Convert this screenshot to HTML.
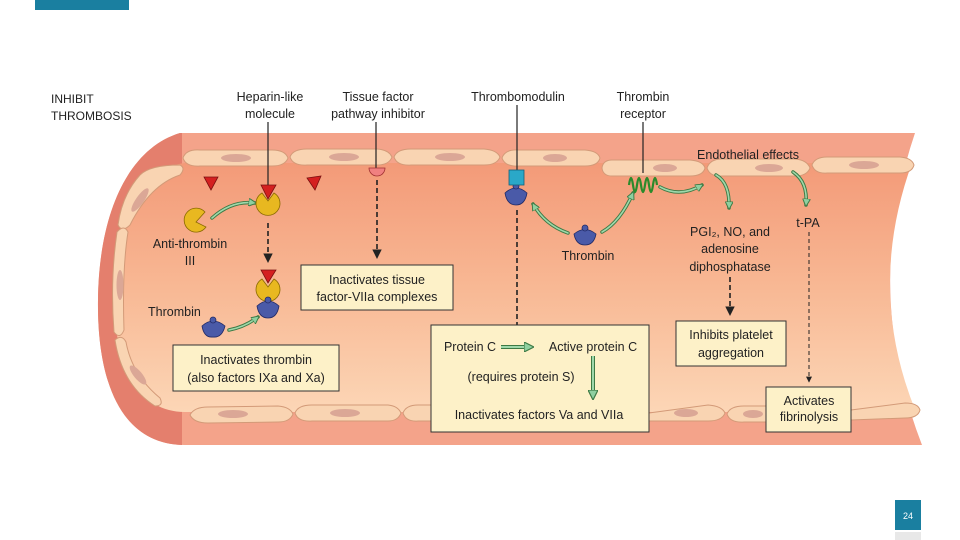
<!DOCTYPE html>
<html><head><meta charset="utf-8"><style>
html,body{margin:0;padding:0;background:#fff;width:960px;height:540px;overflow:hidden}
text{font-family:"Liberation Sans",sans-serif;fill:#222}
</style></head><body>
<svg width="960" height="540" viewBox="0 0 960 540" xmlns="http://www.w3.org/2000/svg">
<defs>
<linearGradient id="lum" x1="0" y1="0" x2="0" y2="1">
<stop offset="0" stop-color="#f39a78"/><stop offset="0.5" stop-color="#f8b894"/><stop offset="1" stop-color="#fcd6b6"/>
</linearGradient>
<clipPath id="leftc"><rect x="0" y="0" width="182" height="540"/></clipPath>
<marker id="ak" viewBox="0 0 10 10" refX="9" refY="5" markerWidth="6" markerHeight="6" orient="auto"><path d="M0,0 L10,5 L0,10 Z" fill="#222"/></marker>
<marker id="ag" viewBox="0 0 10 10" refX="8" refY="5" markerWidth="5" markerHeight="5" orient="auto"><path d="M0,0 L10,5 L0,10 Z" fill="#8fd0a0" stroke="#3d7a45" stroke-width="1.2"/></marker>
</defs>
<rect x="35" y="0" width="94" height="10" fill="#1a7fa0"/>
<!-- vessel wall -->
<path id="outer" d="M180,133 L915,133 Q862,290 922,445 L185,445 C120,445 97,380 98,300 C99,210 130,148 180,133 Z" fill="#f4a38a"/>
<path d="M180,133 L915,133 Q862,290 922,445 L185,445 C120,445 97,380 98,300 C99,210 130,148 180,133 Z" fill="#e47f6d" clip-path="url(#leftc)"/>
<!-- lumen -->
<path d="M185,163 L912,163 Q866,290 916,412 L185,412 C135,412 113,360 114,290 C115,215 140,168 185,163 Z" fill="url(#lum)"/>
<!-- top cells -->
<g fill="#f9d4b2" stroke="#d39a78" stroke-width="1">
<path d="M183,158 Q186,149 200,150 L272,150 Q285,150 288,158 Q285,166 272,166 L200,166 Q186,167 183,158 Z"/>
<path d="M290,157 Q293,149 307,149 L377,149 Q389,150 392,157 Q389,165 377,165 L307,165 Q293,166 290,157 Z"/>
<path d="M394,157 Q397,149 411,149 L484,149 Q497,150 500,157 Q497,165 484,165 L411,165 Q397,166 394,157 Z"/>
<path d="M502,158 Q505,149 519,150 L585,150 Q598,151 600,158 Q598,166 585,166 L519,166 Q505,167 502,158 Z"/>
<path d="M602,168 Q603,160 612,160 L690,160 Q703,161 705,168 Q703,176 690,176 L612,176 Q603,176 602,168 Z"/>
<path d="M707,168 Q710,159 722,159 L795,159 Q807,160 810,168 Q807,176 795,176 L722,176 Q710,177 707,168 Z"/>
<path d="M812,165 Q815,157 827,157 L900,157 Q912,158 914,165 Q912,173 900,173 L827,173 Q815,174 812,165 Z"/>
<!-- bottom cells -->
<path d="M190,415 Q194,407 208,407 L278,406 Q290,407 293,414 Q290,422 278,422 L208,423 Q194,423 190,415 Z"/>
<path d="M295,413 Q298,405 312,405 L388,405 Q398,406 401,413 Q398,421 388,421 L312,421 Q298,422 295,413 Z"/>
<path d="M403,413 Q406,405 418,405 L432,405 L432,421 L418,421 Q406,422 403,413 Z"/>
<path d="M649,413 L708,405 Q722,406 725,413 Q722,421 708,421 L649,421 Z"/>
<path d="M727,414 Q730,406 744,406 L780,406 L780,422 L744,422 Q730,423 727,414 Z"/>
<path d="M851,410 L905,403 Q918,403 920,410 Q918,418 905,418 L851,420 Z"/>
<!-- left cells -->
<path d="M140,175 Q150,165 180,165 Q186,168 180,175 Q150,185 130,225 Q122,233 118,225 Q122,195 140,175 Z"/>
<path d="M117,232 Q124,224 128,232 Q122,270 124,330 Q120,340 114,332 Q110,280 117,232 Z"/>
<path d="M115,340 Q122,334 126,342 Q132,375 160,398 Q164,406 155,406 Q122,385 115,340 Z"/>
</g>
<g fill="#dba796">
<ellipse cx="236" cy="158" rx="15" ry="4"/><ellipse cx="344" cy="157" rx="15" ry="4"/><ellipse cx="450" cy="157" rx="15" ry="4"/>
<ellipse cx="555" cy="158" rx="12" ry="4"/><ellipse cx="665" cy="168" rx="12" ry="4"/><ellipse cx="769" cy="168" rx="14" ry="4"/><ellipse cx="864" cy="165" rx="15" ry="4"/>
<ellipse cx="233" cy="414" rx="15" ry="4"/><ellipse cx="345" cy="413" rx="15" ry="4"/><ellipse cx="686" cy="413" rx="12" ry="4"/><ellipse cx="753" cy="414" rx="10" ry="4"/>
<ellipse cx="140" cy="200" rx="4" ry="14" transform="rotate(35 140 200)"/><ellipse cx="120" cy="285" rx="3.5" ry="15"/><ellipse cx="138" cy="375" rx="4" ry="12" transform="rotate(-40 138 375)"/>
</g>
<!-- labels top -->
<text x="51" y="103" font-size="12">INHIBIT</text>
<text x="51" y="120" font-size="12">THROMBOSIS</text>
<g font-size="12.5" text-anchor="middle">
<text x="270" y="101">Heparin-like</text><text x="270" y="118">molecule</text>
<text x="378" y="101">Tissue factor</text><text x="378" y="118">pathway inhibitor</text>
<text x="518" y="101">Thrombomodulin</text>
<text x="643" y="101">Thrombin</text><text x="643" y="118">receptor</text>
<text x="748" y="159">Endothelial effects</text>
<text x="190" y="248">Anti-thrombin</text><text x="190" y="265">III</text>
<text x="588" y="260">Thrombin</text>
<text x="730" y="236">PGI₂, NO, and</text><text x="730" y="253">adenosine</text><text x="730" y="271">diphosphatase</text>
<text x="808" y="227">t-PA</text>
</g>
<text x="148" y="316" font-size="12.5">Thrombin</text>
<!-- solid lines -->
<g stroke="#222" stroke-width="1.2">
<line x1="268" y1="122" x2="268" y2="188"/><line x1="376" y1="122" x2="376" y2="170"/>
<line x1="517" y1="105" x2="517" y2="173"/><line x1="643" y1="122" x2="643" y2="173"/>
</g>
<!-- dashed -->
<g stroke="#222" stroke-width="1.6" stroke-dasharray="5,3" fill="none" marker-end="url(#ak)">
<line x1="268" y1="223" x2="268" y2="262"/>
<line x1="377" y1="180" x2="377" y2="258"/>
<line x1="517" y1="210" x2="517" y2="338"/>
<line x1="730" y1="277" x2="730" y2="315"/>
</g>
<line x1="809" y1="232" x2="809" y2="382" stroke="#222" stroke-width="1" stroke-dasharray="4,3" marker-end="url(#ak)"/>
<!-- green arrows -->
<g stroke="#3d7a45" stroke-width="3.5" fill="none" stroke-linecap="round">
<path d="M212,218 Q232,200 255,203"/><path d="M229,330 Q245,327 258,317"/>
<path d="M568,233 Q545,225 533,204"/><path d="M602,232 Q620,222 633,193"/>
<path d="M660,187 Q680,198 702,185"/><path d="M716,175 Q730,183 729,208"/>
<path d="M793,172 Q808,182 806,205"/>
</g>
<g stroke="#9fd8ab" stroke-width="1.6" fill="none" stroke-linecap="round">
<path d="M212,218 Q232,200 255,203" marker-end="url(#ag)"/><path d="M229,330 Q245,327 258,317" marker-end="url(#ag)"/>
<path d="M568,233 Q545,225 533,204" marker-end="url(#ag)"/><path d="M602,232 Q620,222 633,193" marker-end="url(#ag)"/>
<path d="M660,187 Q680,198 702,185" marker-end="url(#ag)"/><path d="M716,175 Q730,183 729,208" marker-end="url(#ag)"/>
<path d="M793,172 Q808,182 806,205" marker-end="url(#ag)"/>
</g>
<!-- molecules -->
<g fill="#d42020" stroke="#7a1010" stroke-width="0.8">
<path d="M204,177 L218,177 L211,190 Z"/><path d="M261,185 L276,185 L268,199 Z"/><path d="M307,178 L321,176 L315,190 Z"/><path d="M261,270 L276,270 L268,283 Z"/>
</g>
<g fill="#e8b820" stroke="#8a6a00" stroke-width="0.8">
<path d="M205,212 A12,12 0 1 0 206,227 L196,222 Z"/>
<path d="M262,193 L268,201 L274,193 A12,12 0 1 1 262,193 Z"/>
<path d="M262,279 L268,287 L274,279 A12,12 0 1 1 262,279 Z"/>
</g>
<g fill="#4a5aa8" stroke="#232b66" stroke-width="0.8">
<path d="M202,326 Q213,316 225,326 Q222,338 213,337 Q204,338 202,326 Z"/><circle cx="213" cy="320" r="3"/>
<path d="M257,306 Q268,296 279,306 Q277,318 268,318 Q259,318 257,306 Z"/><circle cx="268" cy="300" r="3"/>
<path d="M505,193 Q516,183 527,193 Q525,205 516,205 Q507,205 505,193 Z"/><circle cx="516" cy="186" r="3"/>
<path d="M574,234 Q585,225 596,234 Q594,245 585,245 Q576,245 574,234 Z"/><circle cx="585" cy="228" r="3"/>
</g>
<rect x="509" y="170" width="15" height="15" fill="#2aa8c8" stroke="#14607a" stroke-width="0.8"/>
<path d="M369,168 L385,168 A8,8 0 0 1 369,168 Z" fill="#f08080" stroke="#a03030" stroke-width="0.8"/>
<path d="M629,185 q2,-14 4,0 q2,14 4,0 q2,-14 4,0 q2,14 4,0 q2,-14 4,0 q2,14 4,0 q2,-14 4,0" fill="none" stroke="#2b8a2b" stroke-width="2.2"/>
<!-- boxes -->
<g fill="#fdf1c8" stroke="#333" stroke-width="1">
<rect x="301" y="265" width="152" height="45"/>
<rect x="173" y="345" width="166" height="46"/>
<rect x="431" y="325" width="218" height="107"/>
<rect x="676" y="321" width="110" height="45"/>
<rect x="766" y="387" width="85" height="45"/>
</g>
<g font-size="12.5" text-anchor="middle">
<text x="377" y="284">Inactivates tissue</text><text x="377" y="301">factor-VIIa complexes</text>
<text x="256" y="364">Inactivates thrombin</text><text x="256" y="382">(also factors IXa and Xa)</text>
<text x="731" y="339">Inhibits platelet</text><text x="731" y="357">aggregation</text>
<text x="809" y="405">Activates</text><text x="809" y="421">fibrinolysis</text>
<text x="470" y="351">Protein C</text><text x="593" y="351">Active protein C</text>
<text x="521" y="381">(requires protein S)</text>
<text x="539" y="419">Inactivates factors Va and VIIa</text>
</g>
<g stroke="#3d7a45" stroke-width="4" fill="none"><line x1="501" y1="347" x2="530" y2="347"/><line x1="593" y1="356" x2="593" y2="395"/></g>
<g stroke="#9fd8ab" stroke-width="2" fill="none"><line x1="501" y1="347" x2="532" y2="347" marker-end="url(#ag)"/><line x1="593" y1="356" x2="593" y2="398" marker-end="url(#ag)"/></g>
<!-- page number -->
<rect x="895" y="500" width="26" height="30" fill="#1a7fa0"/>
<text x="908" y="519" font-size="9" text-anchor="middle" style="fill:#fff">24</text>
<rect x="895" y="532" width="26" height="8" fill="#e8e8e8"/>
</svg>
</body></html>
